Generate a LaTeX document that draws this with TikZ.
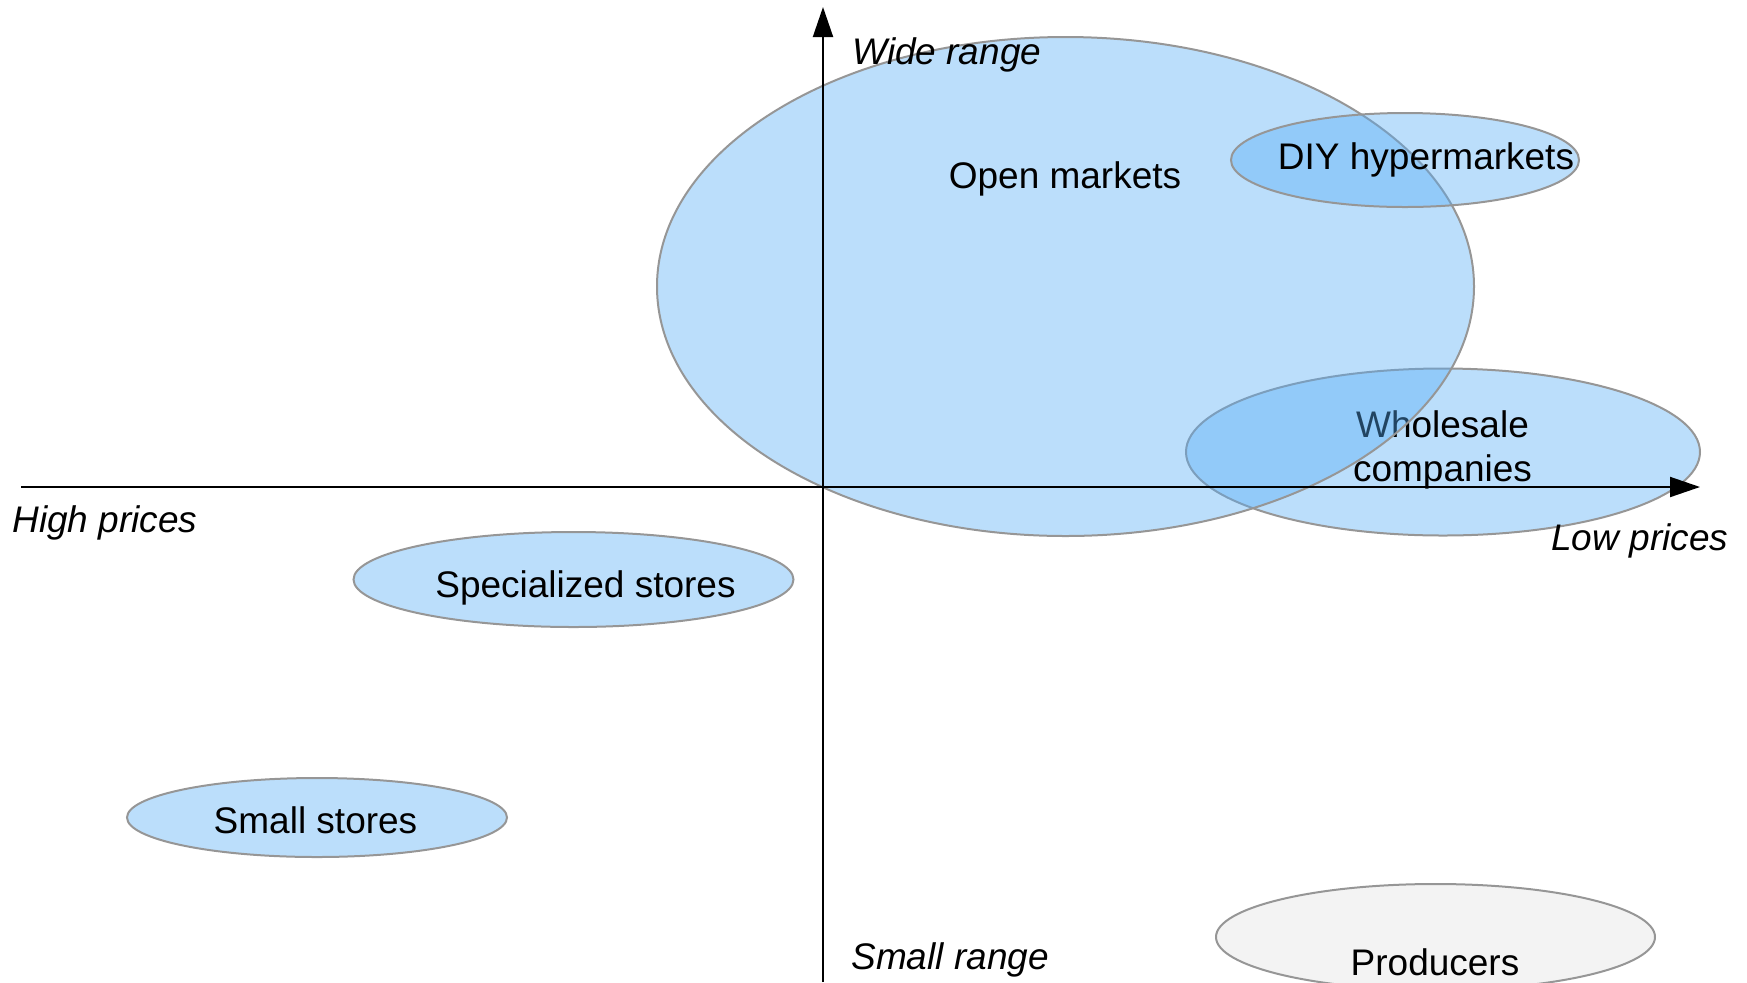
\documentclass[tikz,border=0pt]{standalone}
\usepackage{fontspec}
\setmainfont{Liberation Sans}
\usetikzlibrary{arrows.meta}
\usetikzlibrary{shapes.geometric}
\definecolor{marketblue}{RGB}{85,172,245}
\definecolor{edgegray}{RGB}{150,150,150}
\definecolor{producergray}{RGB}{243,243,243}
\tikzset{x=0.5pt, y=-0.5pt, % one unit is one pixel, y grows downwards
  every node/.style={inner sep=0pt,
    font=\fontsize{18.5pt}{22pt}\selectfont},
  market/.style={ % the blue, see-through ellipses
    ellipse, draw=edgegray, line width=1pt,
    fill=marketblue, fill opacity=0.4},
  producer/.style={
    ellipse, draw=edgegray, line width=1pt,
    fill=producergray},
  marketname/.style={anchor=base},
  axisname/.style={anchor=base west,
    font=\fontsize{18.5pt}{22pt}\selectfont\itshape},
  axis/.style={draw=black, line width=1pt,
    -{Triangle[length=15pt, width=10pt]}}}

\begin{document}
\begin{tikzpicture}
  \useasboundingbox (0,0) rectangle (1747,982);

  % back to front, so the overlaps get darker
  \node [market, minimum width=257pt, minimum height=83.5pt] (wholesale) at (1443,452) {};
  % base of a two-line node is its last line
  \node [marketname, align=center] (wholesaletext) at (1442.5,481) {Wholesale\\companies};
  \node [market, minimum width=408.5pt, minimum height=249.5pt] (openmarkets) at (1065.5,286.5) {};
  \node [marketname] (openmarketstext) at (1065,188) {Open markets};
  \node [market, minimum width=174pt, minimum height=47pt] (diy) at (1405,160) {};
  \node [marketname] (diytext) at (1426,169) {DIY hypermarkets};

  \node [market, minimum width=220pt, minimum height=47.5pt] (specialized) at (573.5,579.5) {};
  \node [marketname] (specializedtext) at (585.5,597) {Specialized stores};
  \node [market, minimum width=190pt, minimum height=39.5pt] (smallstores) at (317,817.5) {};
  \node [marketname] (smallstorestext) at (315.5,833) {Small stores};
  \node [producer, minimum width=219.5pt, minimum height=53pt] (producers) at (1435.5,937) {};
  \node [marketname] (producerstext) at (1435,975) {Producers};

  % price and range axes
  \coordinate (hstart) at (21,487);
  \coordinate (hend) at (1700,487);
  \coordinate (vstart) at (823,982);
  \coordinate (vend) at (823,7);
  \draw [axis] (hstart) -- (hend);
  \draw [axis] (vstart) -- (vend);

  \node [axisname] (widerange) at (852,64) {Wide range};
  \node [axisname] (smallrange) at (851,969) {Small range};
  \node [axisname] (highprices) at (12,532) {High prices};
  \node [axisname] (lowprices) at (1551,550) {Low prices};
\end{tikzpicture}
\end{document}
